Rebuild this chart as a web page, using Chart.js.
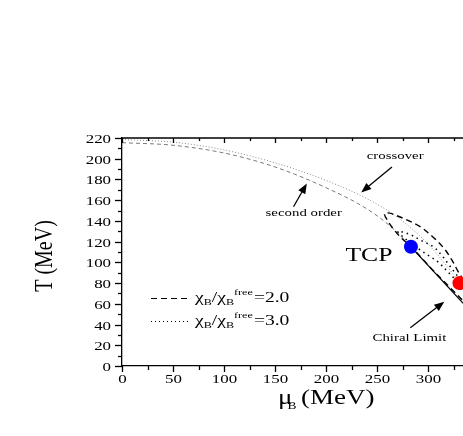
<!DOCTYPE html>
<html>
<head>
<meta charset="utf-8">
<script src="https://cdn.jsdelivr.net/npm/chart.js@4"></script>
<style>
  html, body { margin: 0; padding: 0; background: #fff; }
</style>
</head>
<body>
<canvas id="phase-chart" width="463" height="436"></canvas>
<script>
// Crossover line (gray dotted), ends at the critical end point
const crossoverMu = [0, 50, 100, 150, 200, 240, 270, 300, 331];
const crossoverT  = [218.5, 216, 208.5, 196, 179, 161.4, 143.4, 117.5, 80.5];

// Second order line (gray dashed), ends at the TCP
const secondMu = [0, 50, 100, 150, 200, 240, 265, 283];
const secondT  = [215.5, 213, 205.5, 192, 172, 151.5, 133, 115];

// First order line in the chiral limit (solid)
const firstMu = [283, 345];
const firstT  = [115, 49];

// chi_B / chi_B^free = 2.0 contour (black dashed)
const chi2Mu = [340, 320, 305, 290, 280, 273, 266, 261, 257, 262, 268, 279, 292, 304, 315, 323, 329, 333, 340];
const chi2T  = [57, 77, 92, 108, 118, 124, 132, 139, 147, 147.5, 145.5, 141, 134.5, 125, 114, 102.5, 91.5, 85, 72];

// chi_B / chi_B^free = 3.0 contour (black dotted)
const chi3Mu = [340, 331, 324, 318, 310, 302, 292, 284, 276, 270, 276, 284, 292, 305, 313, 321.5, 330, 337];
const chi3T  = [70, 79, 86, 92, 100, 105.5, 112, 118, 124, 130, 129, 126, 121.6, 115, 107, 96, 85, 75];

// special points
const tcpPoint = [283, 115];
const cepPoint = [330.5, 80];

// axes
const xMin = 0, xMax = 334, xStep = 50, xMinor = 25;
const yMin = 0, yMax = 220, yStep = 20, yMinor = 10;

// annotation arrows [fromMu, fromT, toMu, toT] and labels [text, mu, T]
const arrows = [
    [264.4, 192, 234.3, 167.5],
    [168, 153.7, 181, 176],
    [282.4, 37, 315.7, 62]
];
const labels = [
    ['crossover', 267.6, 199.5],
    ['second order', 178, 144.5],
    ['Chiral Limit', 281.5, 24]
];

const SX = 1.35; // the reference text is stretched horizontally
const SERIF = '"Liberation Serif", "DejaVu Serif", serif';

function zip(mu, t) {
    return mu.map((m, i) => ({ x: m, y: t[i] }));
}

function stretchText(ctx, text, x, y, size, align) {
    ctx.save();
    ctx.translate(x, y);
    ctx.scale(SX, 1);
    ctx.font = size + 'px ' + SERIF;
    ctx.textAlign = align || 'left';
    ctx.textBaseline = 'alphabetic';
    ctx.fillStyle = '#000';
    ctx.fillText(text, 0, 0);
    ctx.restore();
}

function textWidth(ctx, text, size) {
    ctx.save();
    ctx.font = size + 'px ' + SERIF;
    const w = ctx.measureText(text).width * SX;
    ctx.restore();
    return w;
}

function arrow(ctx, x1, y1, x2, y2) {
    const ang = Math.atan2(y2 - y1, x2 - x1);
    const len = 10, half = 4;
    ctx.save();
    ctx.strokeStyle = '#000';
    ctx.fillStyle = '#000';
    ctx.lineWidth = 1.3;
    ctx.beginPath();
    ctx.moveTo(x1, y1);
    ctx.lineTo(x2 - Math.cos(ang) * len * 0.8, y2 - Math.sin(ang) * len * 0.8);
    ctx.stroke();
    ctx.beginPath();
    ctx.moveTo(x2, y2);
    ctx.lineTo(x2 - Math.cos(ang) * len - Math.sin(ang) * half, y2 - Math.sin(ang) * len + Math.cos(ang) * half);
    ctx.lineTo(x2 - Math.cos(ang) * len + Math.sin(ang) * half, y2 - Math.sin(ang) * len - Math.cos(ang) * half);
    ctx.closePath();
    ctx.fill();
    ctx.restore();
}

// legend entry: chi_B/chi_B^free = value
function chiLabel(ctx, x, y, value) {
    const main = 14.5, small = 9;
    const parts = [
        ['\u03C7', main, 0],
        ['B', small, 3],
        ['/\u03C7', main, 0],
        ['B', small, 3],
        ['free', small, -7],
        ['=' + value, main, 0]
    ];
    let cx = x;
    parts.forEach(p => {
        stretchText(ctx, p[0], cx, y + p[2], p[1]);
        cx += textWidth(ctx, p[0], p[1]) + (p[0] === 'free' ? 1 : 0);
    });
}

const decorPlugin = {
    id: 'decor',
    afterDraw(chart) {
        const ctx = chart.ctx;
        const xs = chart.scales.x, ys = chart.scales.y;
        const area = chart.chartArea;

        ctx.save();
        ctx.strokeStyle = '#000';
        ctx.lineWidth = 1.3;

        // top axis line
        ctx.beginPath();
        ctx.moveTo(area.left, area.top);
        ctx.lineTo(area.right, area.top);
        ctx.stroke();

        // x ticks (bottom outward, top inward)
        for (let v = xMin; v <= xMax; v += xMinor) {
            const px = Math.round(xs.getPixelForValue(v)) + 0.5;
            const major = v % xStep === 0;
            ctx.beginPath();
            ctx.moveTo(px, area.bottom);
            ctx.lineTo(px, area.bottom + (major ? 6 : 4));
            ctx.moveTo(px, area.top);
            ctx.lineTo(px, area.top + (major ? 5 : 3));
            ctx.stroke();
            if (major) stretchText(ctx, String(v), px, area.bottom + 17, 12.5, 'center');
        }
        // y ticks (left outward)
        for (let v = yMin; v <= yMax; v += yMinor) {
            const py = Math.round(ys.getPixelForValue(v)) + 0.5;
            const major = v % yStep === 0;
            ctx.beginPath();
            ctx.moveTo(area.left, py);
            ctx.lineTo(area.left - (major ? 7 : 4), py);
            ctx.stroke();
            if (major) stretchText(ctx, String(v), area.left - 11, py + 4.3, 12.5, 'right');
        }
        ctx.restore();

        // axis titles
        stretchText(ctx, '\u03BC', 278, 404, 20);
        stretchText(ctx, 'B', 287.5, 409, 10);
        stretchText(ctx, '(MeV)', 301, 404, 20);
        ctx.save();
        ctx.translate(52, 256);
        ctx.scale(1.25, 1);
        ctx.rotate(-Math.PI / 2);
        ctx.font = '20px ' + SERIF;
        ctx.textAlign = 'center';
        ctx.textBaseline = 'alphabetic';
        ctx.fillStyle = '#000';
        ctx.fillText('T (MeV)', 0, 0);
        ctx.restore();

        // arrows and labels
        arrows.forEach(a => {
            arrow(ctx, xs.getPixelForValue(a[0]), ys.getPixelForValue(a[1]),
                xs.getPixelForValue(a[2]), ys.getPixelForValue(a[3]));
        });
        labels.forEach(l => {
            stretchText(ctx, l[0], xs.getPixelForValue(l[1]), ys.getPixelForValue(l[2]), 11, 'center');
        });
        stretchText(ctx, 'TCP', xs.getPixelForValue(tcpPoint[0]) - 42, ys.getPixelForValue(tcpPoint[1]) + 14, 19, 'center');

        // legend
        ctx.save();
        ctx.strokeStyle = '#000';
        ctx.lineWidth = 1;
        ctx.setLineDash([6, 4]);
        ctx.beginPath();
        ctx.moveTo(151, 298.5);
        ctx.lineTo(189, 298.5);
        ctx.stroke();
        ctx.setLineDash([1, 3]);
        ctx.beginPath();
        ctx.moveTo(151, 321.5);
        ctx.lineTo(189, 321.5);
        ctx.stroke();
        ctx.restore();
        chiLabel(ctx, 195, 302, '2.0');
        chiLabel(ctx, 195, 325, '3.0');
    }
};

const ctx = document.getElementById('phase-chart').getContext('2d');
new Chart(ctx, {
    type: 'line',
    data: {
        datasets: [
            {
                label: 'CEP',
                data: [{ x: cepPoint[0], y: cepPoint[1] }],
                showLine: false,
                pointRadius: 7,
                pointBackgroundColor: '#ff0000',
                pointBorderColor: '#ff0000',
                pointBorderWidth: 0
            },
            {
                label: 'TCP',
                data: [{ x: tcpPoint[0], y: tcpPoint[1] }],
                showLine: false,
                pointRadius: 7,
                pointBackgroundColor: '#0000ff',
                pointBorderColor: '#0000ff',
                pointBorderWidth: 0
            },
            {
                label: 'first order',
                data: zip(firstMu, firstT),
                borderColor: '#000',
                borderWidth: 1.3,
                pointRadius: 0,
                tension: 0
            },
            {
                label: 'chi 2.0',
                data: zip(chi2Mu, chi2T),
                borderColor: '#000',
                borderWidth: 1.4,
                borderDash: [6, 4],
                pointRadius: 0,
                tension: 0.35
            },
            {
                label: 'chi 3.0',
                data: zip(chi3Mu, chi3T),
                borderColor: '#000',
                borderWidth: 1.5,
                borderDash: [1.5, 4],
                pointRadius: 0,
                tension: 0.35
            },
            {
                label: 'crossover',
                data: zip(crossoverMu, crossoverT),
                borderColor: '#8a8a8a',
                borderWidth: 1,
                borderDash: [1, 2],
                pointRadius: 0,
                cubicInterpolationMode: 'monotone'
            },
            {
                label: 'second order',
                data: zip(secondMu, secondT),
                borderColor: '#7a7a7a',
                borderWidth: 1,
                borderDash: [4, 3],
                pointRadius: 0,
                cubicInterpolationMode: 'monotone'
            }
        ]
    },
    options: {
        responsive: false,
        animation: false,
        events: [],
        layout: { autoPadding: false, padding: { top: 138, left: 0, right: 0, bottom: 0 } },
        scales: {
            x: {
                type: 'linear',
                min: xMin,
                max: xMax,
                ticks: { display: false, stepSize: xStep, includeBounds: false },
                grid: { display: false, drawTicks: false },
                border: { display: true, color: '#000', width: 1.3 },
                afterFit: s => { s.height = 70; }
            },
            y: {
                type: 'linear',
                min: yMin,
                max: yMax,
                ticks: { display: false, stepSize: yStep },
                grid: { display: false, drawTicks: false },
                border: { display: true, color: '#000', width: 1.3 },
                afterFit: s => { s.width = 122; }
            }
        },
        plugins: {
            legend: { display: false },
            tooltip: { enabled: false }
        }
    },
    plugins: [decorPlugin]
});
</script>
</body>
</html>
